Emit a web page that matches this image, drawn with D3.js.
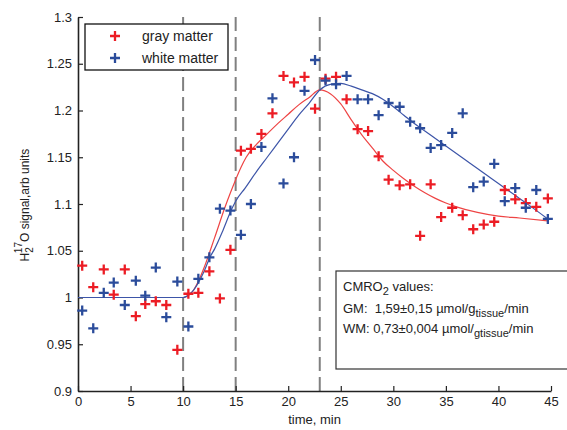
<!DOCTYPE html>
<html lang="en">
  <head>
    <meta charset="utf-8" />
    <title>H2 17O signal</title>
    <script type="text/javascript" src="https://cdn.jsdelivr.net/npm/d3@7"></script>
    <style>
      body { margin: 0; background: white; }
      text { font-family: "Liberation Sans", Arial, sans-serif; }
    </style>
  </head>
  <body>
    <script type="text/javascript">
// sample times (min)
var times = [0.4, 1.45, 2.45, 3.4, 4.45, 5.5, 6.4, 7.4, 8.4, 9.45,
             10.5, 11.45, 12.5, 13.5, 14.5, 15.5, 16.45, 17.45, 18.5, 19.55,
             20.55, 21.55, 22.55, 23.55, 24.55, 25.55, 26.6, 27.6, 28.6, 29.55,
             30.6, 31.6, 32.55, 33.55, 34.55, 35.6, 36.6, 37.6, 38.6, 39.6,
             40.6, 41.6, 42.6, 43.6, 44.7];
var grayMatter = [1.034, 1.011, 1.030, 1.003, 1.030, 0.980, 0.993, 0.996, 0.992, 0.944,
                  1.004, 1.005, 1.028, 0.999, 1.051, 1.157, 1.159, 1.175, 1.197, 1.237,
                  1.230, 1.236, 1.202, 1.234, 1.236, 1.212, 1.180, 1.178, 1.151, 1.126,
                  1.120, 1.121, 1.066, 1.121, 1.086, 1.096, 1.088, 1.073, 1.078, 1.081,
                  1.115, 1.105, 1.101, 1.097, 1.106];
var whiteMatter = [0.986, 0.967, 1.005, 1.016, 0.992, 1.018, 1.002, 1.032, 0.979, 1.017,
                   0.969, 1.020, 1.043, 1.095, 1.093, 1.067, 1.100, 1.161, 1.213, 1.122,
                   1.150, 1.221, 1.254, 1.232, 1.228, 1.237, 1.212, 1.212, 1.195, 1.208,
                   1.204, 1.188, 1.181, 1.160, 1.163, 1.176, 1.197, 1.118, 1.124, 1.143,
                   1.103, 1.117, 1.096, 1.115, 1.084];

// fitted model curves
var gmFitT = [0, 10, 11, 11.6, 12, 13, 14, 14.5, 15, 15.5, 16, 17, 18, 19, 20, 21, 22, 23,
              24, 25, 26, 27, 28, 29, 30, 31, 32, 33, 34, 35, 36, 38, 40, 42, 44.7];
var gmFitV = [1.0, 1.0, 1.008, 1.021, 1.032, 1.064, 1.097, 1.112, 1.126, 1.139, 1.150, 1.164,
              1.175, 1.186, 1.196, 1.206, 1.214, 1.222,
              1.218, 1.207, 1.190, 1.174, 1.160, 1.146, 1.136, 1.127, 1.119, 1.112, 1.106,
              1.101, 1.097, 1.091, 1.087, 1.085, 1.082];
var wmFitT = [0, 10, 10.65, 11, 12, 12.55, 13, 13.8, 14.6, 15, 15.9, 17, 18, 19.2, 20, 21, 22, 23,
              24, 25, 26, 27, 28, 29, 30, 31, 32, 33, 34, 35, 36, 37, 38, 39, 40, 41, 42, 43, 44.7];
var wmFitV = [1.0, 1.0, 1.004, 1.008, 1.028, 1.043, 1.052, 1.072, 1.094, 1.103, 1.117, 1.135,
              1.15, 1.168, 1.18, 1.195, 1.208, 1.222,
              1.228, 1.229, 1.226, 1.222, 1.218, 1.212, 1.204, 1.195, 1.186, 1.178, 1.170,
              1.162, 1.154, 1.146, 1.138, 1.130, 1.122, 1.114, 1.106, 1.098, 1.084];

var markers = [10, 15, 23];
var xTicks = [0, 5, 10, 15, 20, 25, 30, 35, 40, 45];
var yTicks = [0.9, 0.95, 1, 1.05, 1.1, 1.15, 1.2, 1.25, 1.3];
var legendLabels = ["gray matter", "white matter"];

var w = 567;
var h = 430;
var pad = { left: 78, right: 16, top: 17, bottom: 39 };
var red = "#ec1c24";
var blue = "#2b4c9b";

var svg = d3.select("body")
            .append("svg")
            .attr("width", w)
            .attr("height", h);

var xScale = d3.scaleLinear()
               .domain([0, 45])
               .range([pad.left, w - pad.right]);
var yScale = d3.scaleLinear()
               .domain([0.9, 1.3])
               .range([h - pad.bottom, pad.top]);

// dashed stimulus markers
svg.append("g")
   .selectAll("line")
   .data(markers)
   .enter()
   .append("line")
   .attr("x1", function(d) { return xScale(d); })
   .attr("x2", function(d) { return xScale(d); })
   .attr("y1", yScale(1.3))
   .attr("y2", yScale(0.9))
   .attr("stroke", "#808080")
   .attr("stroke-width", 2)
   .attr("stroke-dasharray", "14,6");

// axes, matlab style inward ticks
var xAxis = d3.axisBottom(xScale).tickValues(xTicks).tickSizeInner(-5).tickSizeOuter(0)
              .tickFormat(d3.format("d"));
var yAxis = d3.axisLeft(yScale).tickValues(yTicks).tickSizeInner(-5).tickSizeOuter(0)
              .tickFormat(function(d) { return d3.format("")(d); });
var gx = svg.append("g")
            .attr("transform", "translate(0," + yScale(0.9) + ")")
            .call(xAxis);
var gy = svg.append("g")
            .attr("transform", "translate(" + xScale(0) + ",0)")
            .call(yAxis);
[gx, gy].forEach(function(g) {
  g.select(".domain").attr("stroke", "#222").attr("stroke-width", 1.6);
  g.selectAll(".tick line").attr("stroke", "#222").attr("stroke-width", 1.2);
  g.selectAll(".tick text")
   .attr("font-size", "13px")
   .attr("fill", "#222")
   .attr("font-family", "Liberation Sans, Arial, sans-serif");
});
gx.selectAll(".tick text").attr("dy", "0.95em");
gy.selectAll(".tick text").attr("x", -6);

// fit curves
var line = d3.line()
             .x(function(d) { return xScale(d[0]); })
             .y(function(d) { return yScale(d[1]); })
             .curve(d3.curveMonotoneX);
svg.append("path")
   .datum(d3.zip(gmFitT, gmFitV))
   .attr("d", line)
   .attr("fill", "none")
   .attr("stroke", "#ee4444")
   .attr("stroke-width", 1.2);
svg.append("path")
   .datum(d3.zip(wmFitT, wmFitV))
   .attr("d", line)
   .attr("fill", "none")
   .attr("stroke", "#3d55a8")
   .attr("stroke-width", 1.2);

// plus markers
function plusPath(s) {
  return "M" + (-s) + ",0H" + s + "M0," + (-s) + "V" + s;
}
function drawPoints(vals, color) {
  svg.append("g")
     .selectAll("path")
     .data(d3.zip(times, vals))
     .enter()
     .append("path")
     .attr("transform", function(d) {
       return "translate(" + xScale(d[0]) + "," + yScale(d[1]) + ")";
     })
     .attr("d", plusPath(5))
     .attr("stroke", color)
     .attr("stroke-width", 2.3);
}
drawPoints(grayMatter, red);
drawPoints(whiteMatter, blue);

// legend
var lg = svg.append("g").attr("transform", "translate(85,24)");
lg.append("rect")
  .attr("width", 143)
  .attr("height", 46)
  .attr("fill", "white")
  .attr("stroke", "#111")
  .attr("stroke-width", 1.3);
lg.selectAll("path")
  .data([red, blue])
  .enter()
  .append("path")
  .attr("transform", function(d, i) { return "translate(30," + (12 + i * 22) + ")"; })
  .attr("d", plusPath(5))
  .attr("stroke", function(d) { return d; })
  .attr("stroke-width", 2.3);
lg.selectAll("text")
  .data(legendLabels)
  .enter()
  .append("text")
  .attr("x", 57)
  .attr("y", function(d, i) { return 17 + i * 22; })
  .attr("font-size", "14px")
  .attr("fill", "#222")
  .text(function(d) { return d; });

// CMRO2 annotation
var ag = svg.append("g").attr("transform", "translate(336,271)");
ag.append("rect")
  .attr("width", 240)
  .attr("height", 98)
  .attr("fill", "white")
  .attr("stroke", "#333")
  .attr("stroke-width", 1.2);
var t1 = ag.append("text").attr("x", 7).attr("y", 20).attr("font-size", "13px").attr("fill", "#222");
t1.append("tspan").text("CMRO");
t1.append("tspan").attr("dy", 4).attr("font-size", "11px").text("2");
t1.append("tspan").attr("dy", -4).text(" values:");
var t2 = ag.append("text").attr("x", 7).attr("y", 42).attr("font-size", "13px").attr("fill", "#222");
t2.append("tspan").text("GM:\u00a0\u00a01,59\u00b10,15 \u00b5mol/g");
t2.append("tspan").attr("dy", 4).attr("font-size", "11px").text("tissue");
t2.append("tspan").attr("dy", -4).text("/min");
var t3 = ag.append("text").attr("x", 7).attr("y", 62).attr("font-size", "13px").attr("fill", "#222");
t3.append("tspan").text("WM: 0,73\u00b10,004 \u00b5mol/");
t3.append("tspan").attr("dy", 4).attr("font-size", "11px").text("gtissue");
t3.append("tspan").attr("dy", -4).text("/min");

// axis titles
svg.append("text")
   .attr("x", (xScale(0) + xScale(45)) / 2)
   .attr("y", 424)
   .attr("text-anchor", "middle")
   .attr("font-size", "13px")
   .attr("fill", "#222")
   .text("time, min");
var yl = svg.append("text")
            .attr("transform", "translate(29,205) rotate(-90)")
            .attr("text-anchor", "middle")
            .attr("font-size", "12px")
            .attr("fill", "#222");
yl.append("tspan").text("H");
yl.append("tspan").attr("dy", 4).attr("font-size", "10px").text("2");
yl.append("tspan").attr("dx", -6).attr("dy", -11).attr("font-size", "10px").text("17");
yl.append("tspan").attr("dy", 7).text("O signal,arb units");
    </script>
  </body>
</html>
